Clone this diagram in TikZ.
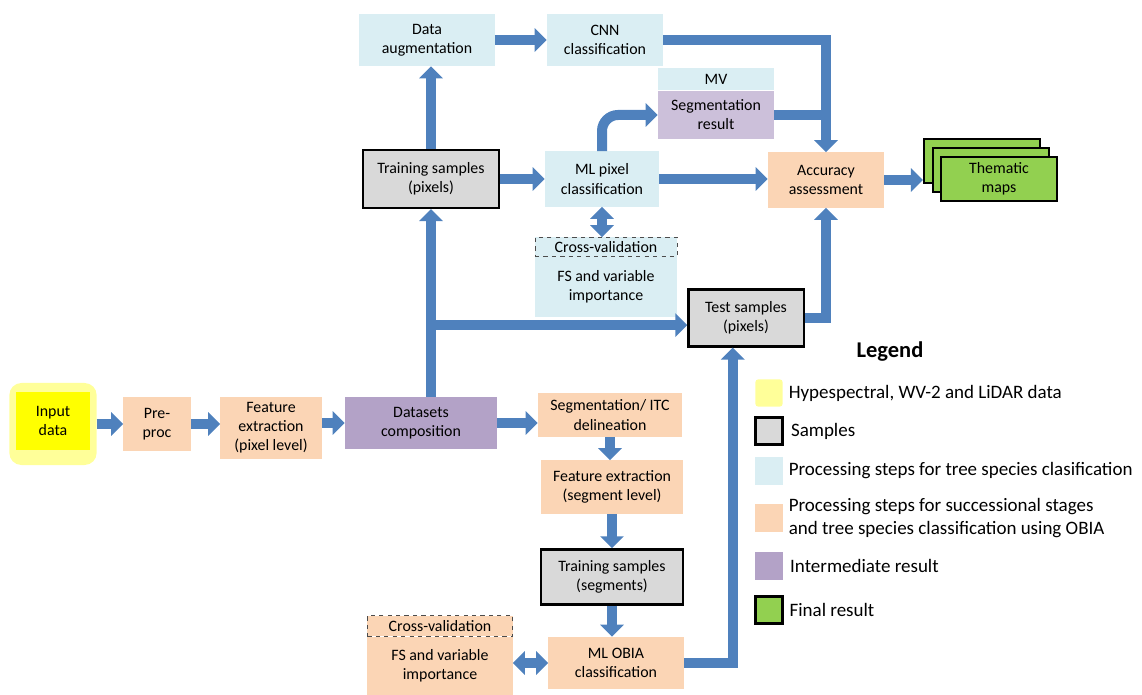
\documentclass[tikz,border=0pt]{standalone}
\usepackage{fontspec}
\setmainfont{Carlito}
\usetikzlibrary{arrows.meta, positioning, calc}
\definecolor{flowblue}{HTML}{4F81BD}
\definecolor{stepblue}{HTML}{DAEEF3}
\definecolor{steppeach}{HTML}{FBD5B5}
\definecolor{interpurple}{HTML}{B3A2C7}
\definecolor{segpurple}{HTML}{CCC0DA}
\definecolor{samplegray}{HTML}{D9D9D9}
\definecolor{finalgreen}{HTML}{92D050}
\definecolor{inputyellow}{HTML}{FFFF00}
\definecolor{glowyellow}{HTML}{FFFF99}

\begin{document}
\begin{tikzpicture}[x=0.025cm, y=-0.025cm, font=\fontsize{11.3}{13.6}\selectfont,
	tree/.style={fill=stepblue, align=center, inner sep=1pt},
	obia/.style={fill=steppeach, align=center, inner sep=1pt},
	inter/.style={fill=interpurple, align=center, inner sep=1pt},
	sample/.style={fill=samplegray, draw=black, line width=1.6pt, align=center, inner sep=1pt},
	final/.style={fill=finalgreen, draw=black, line width=1.6pt, align=center, inner sep=1pt},
	cvbox/.style={draw=black!70, dashed, inner sep=1pt},
	flow/.style={draw=flowblue, line width=0.25cm, -{Triangle[length=0.3cm, width=0.58cm]}},
	flowboth/.style={draw=flowblue, line width=0.25cm, {Triangle[length=0.3cm, width=0.58cm]}-{Triangle[length=0.3cm, width=0.58cm]}},
	flowline/.style={draw=flowblue, line width=0.25cm},
	swatch/.style={minimum width=0.68cm, minimum height=0.68cm, inner sep=0pt},
	legtext/.style={anchor=west, inner sep=1pt, align=left, font=\fontsize{13.5}{16.3}\selectfont}
	]
	
	\useasboundingbox (0,0) rectangle (1142,695);
	
	% 1. Pixel based branch (top)
	\node (aug) at (427,40) [tree, minimum width=3.38cm, minimum height=1.3cm] {Data\\augmentation};
	\node (cnn) at (605,40) [tree, minimum width=2.9cm, minimum height=1.3cm] {CNN\\classification};
	\node (seg) at (716,115) [fill=segpurple, align=center, inner sep=1pt, minimum width=2.9cm, minimum height=1.2cm] {Segmentation\\result};
	\node (mv) [tree, above=0pt of seg, minimum width=2.9cm, minimum height=0.55cm] {MV};
	
	\node (trp) at (431,179) [sample, minimum width=3.4cm, minimum height=1.45cm] {Training samples\\(pixels)};
	\node (mlp) at (602,179) [tree, minimum width=2.85cm, minimum height=1.38cm] {ML pixel\\classification};
	\node (acc) at (826,180) [obia, minimum width=2.9cm, minimum height=1.38cm] {Accuracy\\assessment};
	
	\node (cv1) at (606,247) [tree, cvbox, minimum width=3.55cm, minimum height=0.48cm] {Cross-validation};
	\node (fs1) [tree, below=0pt of cv1, minimum width=3.55cm, minimum height=1.5cm] {FS and variable\\importance};
	\node (tst) at (746,318) [sample, minimum width=2.88cm, minimum height=1.42cm] {Test samples\\(pixels)};
	
	% Thematic maps (stack)
	\node (maps3) at (982,161) [final, minimum width=2.9cm, minimum height=1.1cm] {};
	\node (maps2) at (991,170) [final, minimum width=2.9cm, minimum height=1.1cm] {};
	\node (maps) at (999,179) [final, minimum width=2.9cm, minimum height=1.1cm] {Thematic\\maps};
	
	% 2. Input and common steps
	\node (inpglow) at (53,424) [fill=glowyellow, rounded corners=0.3cm, minimum width=2.18cm, minimum height=2.05cm] {};
	\node (inp) at (53,421) [fill=inputyellow, align=center, minimum width=1.85cm, minimum height=1.45cm] {Input\\data};
	\node (pre) at (157,424) [obia, minimum width=1.68cm, minimum height=1.33cm] {Pre-\\proc};
	\node (fex) at (271,428) [obia, minimum width=2.53cm, minimum height=1.53cm] {Feature\\extraction\\(pixel level)};
	\node (ds) at (421,423) [inter, minimum width=3.8cm, minimum height=1.3cm] {Datasets\\composition};
	
	% 3. OBIA branch (bottom)
	\node (sitc) at (610,415) [obia, minimum width=3.6cm, minimum height=1.1cm] {Segmentation/ ITC\\delineation};
	\node (fseg) at (612,487) [obia, minimum width=3.55cm, minimum height=1.33cm] {Feature extraction\\(segment level)};
	\node (trs) at (612,577) [sample, minimum width=3.55cm, minimum height=1.38cm] {Training samples\\(segments)};
	\node (cv2) at (440,626) [obia, cvbox, minimum width=3.63cm, minimum height=0.52cm] {Cross-validation};
	\node (fs2) [obia, below=0pt of cv2, minimum width=3.63cm, minimum height=1.45cm] {FS and variable\\importance};
	\node (obia) at (616,663) [obia, minimum width=3.38cm, minimum height=1.3cm] {ML OBIA\\classification};
	
	% 4. Connectors
	\draw[flow] (inpglow.east) -- (pre.west);
	\draw[flow] (pre.east) -- (pre.east -| fex.west);
	\draw[flow] (ds.west -| fex.east) -- (ds.west);
	\draw[flow] (ds.east) -- (ds.east -| sitc.west);
	\draw[flow] (ds.north -| trp.south) -- (trp.south);
	\draw[flow] ([yshift=-0.18cm]trp.south |- tst.west) -- ([yshift=-0.18cm]tst.west);
	\draw[flow] (trp.north) -- (trp.north |- aug.south);
	\draw[flow] (aug.east) -- (aug.east -| cnn.west);
	\draw[flow] (trp.east) -- (trp.east -| mlp.west);
	\draw[flow, rounded corners=0.4cm] (mlp.north) |- (seg.west);
	\draw[flowboth] (mlp.south) -- (mlp.south |- cv1.north);
	\draw[flow] (mlp.east) -- (mlp.east -| acc.west);
	\draw[flow] (cnn.east) -| (acc.north);
	\draw[flowline] (seg.east) -- (seg.east -| acc.north);
	\draw[flow] (tst.east) -| (acc.south);
	\draw[flow] (acc.east) -- (acc.east -| maps3.west);
	\draw[flow] (sitc.south) -- (sitc.south |- fseg.north);
	\draw[flow] (fseg.south) -- (fseg.south |- trs.north);
	\draw[flow] (trs.south) -- (trs.south |- obia.north);
	\draw[flowboth] (obia.west -| fs2.east) -- (obia.west);
	\draw[flow] (obia.east) -| ([xshift=-0.33cm]tst.south);
	
	% 5. Legend
	\node (legend) at (890,352) {\fontsize{16}{18}\selectfont\bfseries Legend};
	\node (lg1) at (769,393) [swatch, fill=glowyellow, rounded corners=2pt] {};
	\node (lg2) at (769,431) [swatch, sample] {};
	\node (lg3) at (769,471) [swatch, fill=stepblue] {};
	\node (lg4) at (769,518) [swatch, fill=steppeach] {};
	\node (lg5) at (769,566) [swatch, fill=interpurple] {};
	\node (lg6) at (769,610) [swatch, final] {};
	\node (lt1) [legtext, right=3pt of lg1] {Hypespectral, WV-2 and LiDAR data};
	\node (lt2) [legtext, right=4pt of lg2] {Samples};
	\node (lt3) [legtext, right=3pt of lg3] {Processing steps for tree species clasification};
	\node (lt4) [legtext, right=3pt of lg4] {Processing steps for successional stages\\and tree species classification using OBIA};
	\node (lt5) [legtext, right=4pt of lg5] {Intermediate result};
	\node (lt6) [legtext, right=3pt of lg6] {Final result};
	
\end{tikzpicture}
\end{document}
